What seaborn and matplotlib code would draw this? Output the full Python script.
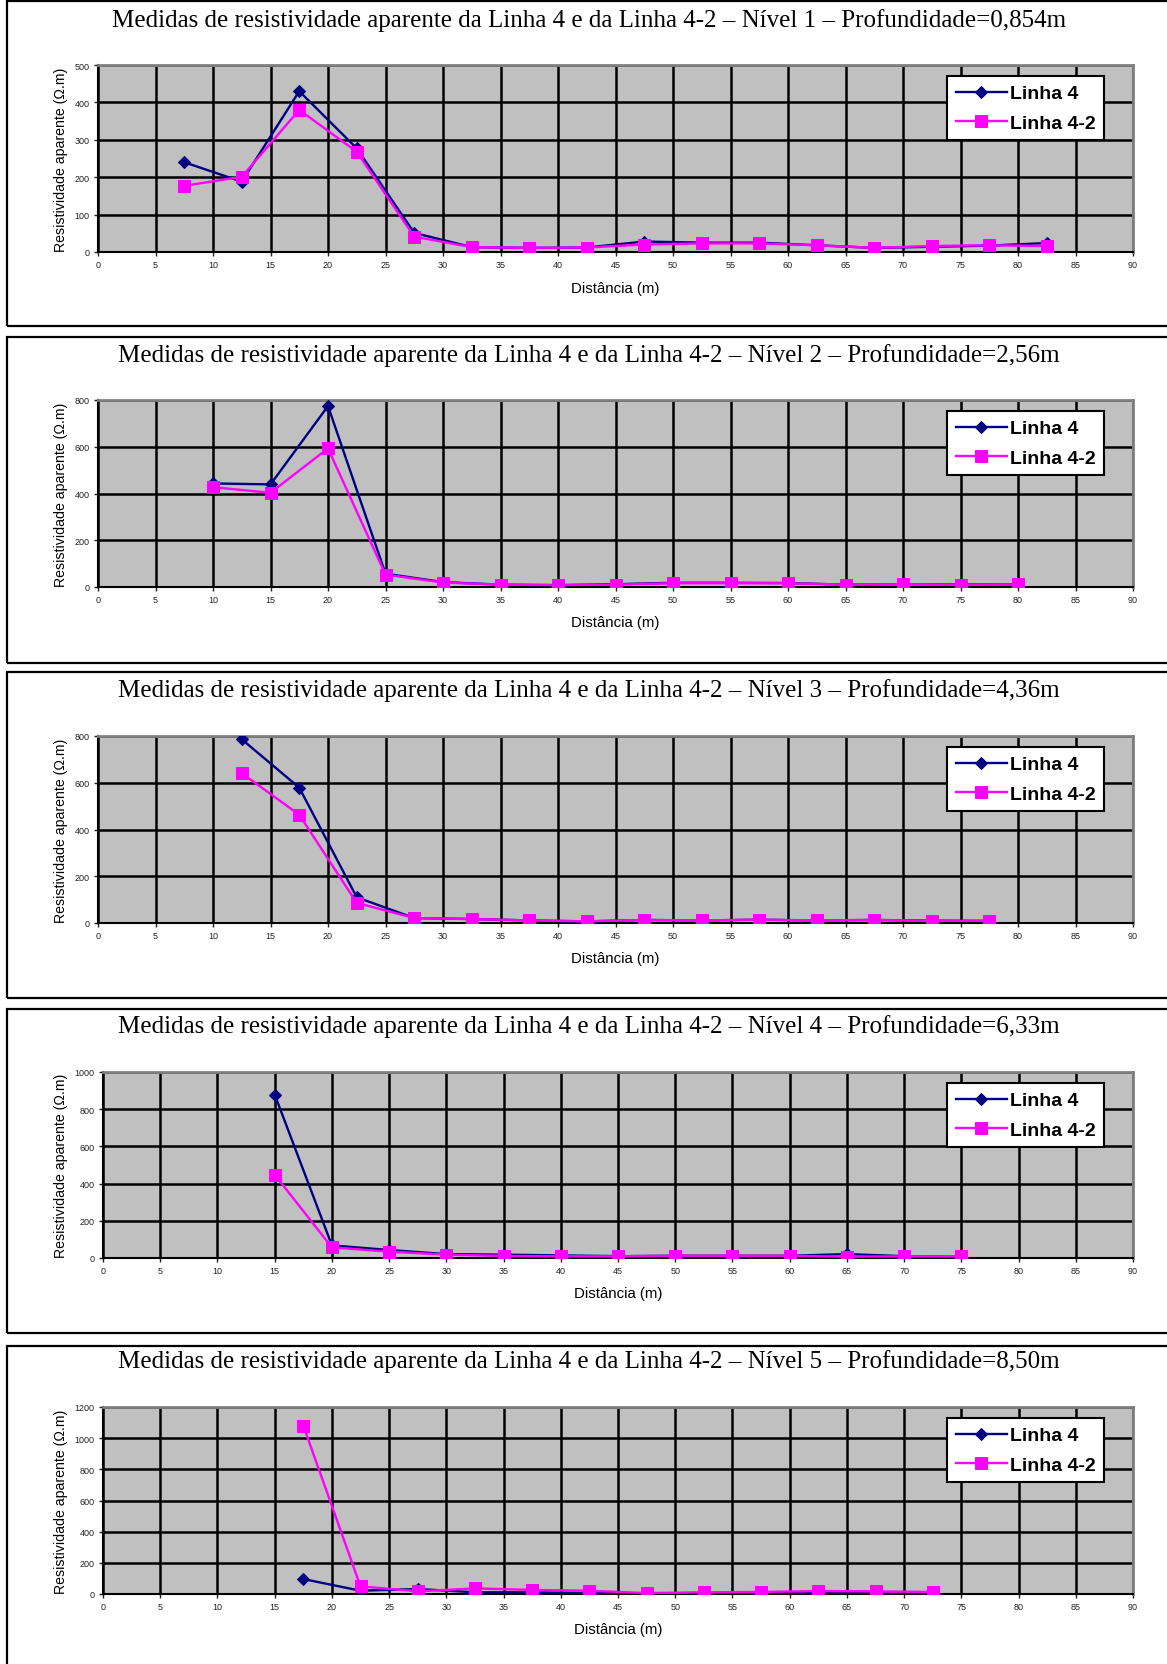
import matplotlib
matplotlib.use("Agg")
import matplotlib.pyplot as plt
from matplotlib.patches import Rectangle
import seaborn as sns

# --- data ---
titles = [
    "Medidas de resistividade aparente da Linha 4 e da Linha 4-2 \u2013 N\u00edvel 1 \u2013 Profundidade=0,854m",
    "Medidas de resistividade aparente da Linha 4 e da Linha 4-2 \u2013 N\u00edvel 2 \u2013 Profundidade=2,56m",
    "Medidas de resistividade aparente da Linha 4 e da Linha 4-2 \u2013 N\u00edvel 3 \u2013 Profundidade=4,36m",
    "Medidas de resistividade aparente da Linha 4 e da Linha 4-2 \u2013 N\u00edvel 4 \u2013 Profundidade=6,33m",
    "Medidas de resistividade aparente da Linha 4 e da Linha 4-2 \u2013 N\u00edvel 5 \u2013 Profundidade=8,50m",
]

x_n1 = [7.5, 12.5, 17.5, 22.5, 27.5, 32.5, 37.5, 42.5, 47.5, 52.5, 57.5, 62.5, 67.5, 72.5, 77.5, 82.5]
l4_n1 = [240, 188, 430, 277, 51, 13, 11, 12, 28, 25, 25, 18, 11, 14, 17, 24]
l42_n1 = [177, 201, 380, 268, 41, 13, 11, 12, 20, 23, 23, 18, 11, 16, 18, 16]

x_n2 = [10, 15, 20, 25, 30, 35, 40, 45, 50, 55, 60, 65, 70, 75, 80]
l4_n2 = [443, 439, 774, 57, 21, 10, 8, 12, 18, 18, 17, 10, 12, 11, 11]
l42_n2 = [427, 403, 593, 53, 19, 10, 8, 10, 16, 16, 16, 10, 12, 10, 11]

x_n3 = [12.5, 17.5, 22.5, 27.5, 32.5, 37.5, 42.5, 47.5, 52.5, 57.5, 62.5, 67.5, 72.5, 77.5]
l4_n3 = [786, 579, 110, 21, 17, 11, 7, 13, 11, 14, 11, 13, 10, 9]
l42_n3 = [641, 463, 86, 21, 17, 11, 7, 13, 11, 14, 11, 13, 9, 9]

x_n4 = [15, 20, 25, 30, 35, 40, 45, 50, 55, 60, 65, 70, 75]
l4_n4 = [879, 68, 43, 21, 18, 14, 10, 12, 12, 12, 21, 10, 8]
l42_n4 = [448, 57, 34, 18, 11, 9, 9, 12, 12, 12, 7, 9, 9]

x_n5 = [17.5, 22.5, 27.5, 32.5, 37.5, 42.5, 47.5, 52.5, 57.5, 62.5, 67.5, 72.5]
l4_n5 = [96, 21, 32, 11, 11, 6, 4, 2, 5, 8, 4, 2]
l42_n5 = [1081, 49, 17, 36, 26, 21, 6, 11, 13, 19, 17, 13]

xs = [x_n1, x_n2, x_n3, x_n4, x_n5]
linha4 = [l4_n1, l4_n2, l4_n3, l4_n4, l4_n5]
linha42 = [l42_n1, l42_n2, l42_n3, l42_n4, l42_n5]
ymax = [500, 800, 800, 1000, 1200]
ystep = [100, 200, 200, 200, 200]

# --- layout in pixels of the 1167x1665 page ---
W, H = 1167, 1665
boxes = [(2, 327), (338, 664), (673, 999), (1010, 1334), (1347, 1690)]
plots = [(98, 66, 1133, 253), (98, 401, 1133, 588), (98, 737, 1133, 924),
         (103, 1073, 1133, 1259), (103, 1408, 1133, 1595)]
title_y = [21, 356, 691, 1027, 1362]
xlabel_y = [289, 623, 959, 1294, 1630]

SANS = "Liberation Sans"
SERIF = "Liberation Serif"


def frac(l, t, r, b):
    return [l / W, 1 - b / H, (r - l) / W, (b - t) / H]


fig = plt.figure(figsize=(W / 100, H / 100), dpi=100)
fig.patch.set_facecolor("white")

for i in range(5):
    top, bot = boxes[i]
    fig.patches.append(Rectangle((6.5 / W, 1 - bot / H), 1.2, (bot - top) / H,
                                 transform=fig.transFigure, fill=False,
                                 edgecolor="black", linewidth=1.6))

    l, t, r, b = plots[i]
    ax = fig.add_axes(frac(l, t, r, b))
    ax.set_facecolor("#C0C0C0")

    sns.lineplot(x=xs[i], y=linha4[i], ax=ax, color="#000080", marker="D",
                 markersize=6, markeredgecolor="#000080", linewidth=1.7,
                 label="Linha 4", zorder=3)
    sns.lineplot(x=xs[i], y=linha42[i], ax=ax, color="#FF00FF", marker="s",
                 markersize=8, markeredgecolor="#FF00FF", linewidth=1.7,
                 label="Linha 4-2", zorder=4)

    ax.set_xlim(0, 90)
    ax.set_ylim(0, ymax[i])
    ax.set_xticks(range(0, 91, 5))
    ax.set_yticks(range(0, ymax[i] + 1, ystep[i]))
    ax.grid(True, color="black", linewidth=1.8)
    ax.set_axisbelow(True)
    ax.tick_params(direction="out", length=3, width=1, labelsize=6.5,
                   colors="#222222", pad=3)
    for lab in ax.get_xticklabels() + ax.get_yticklabels():
        lab.set_family(SANS)

    for side in ("left", "bottom"):
        ax.spines[side].set_color("black")
        ax.spines[side].set_linewidth(1.5)
    for side in ("top", "right"):
        ax.spines[side].set_color("#808080")
        ax.spines[side].set_linewidth(2)

    ax.set_xlabel("Dist\u00e2ncia (m)", family=SANS, fontsize=10.8)
    ax.xaxis.set_label_coords(0.5, -(xlabel_y[i] - b) / (b - t))
    ax.xaxis.label.set_va("center")
    ax.set_ylabel("Resistividade aparente (\u03a9.m)", family=SANS, fontsize=10.2)
    ax.yaxis.set_label_coords(-(l - 61) / (r - l), 0.5)
    ax.yaxis.label.set_va("center")

    fig.text(589 / W, 1 - title_y[i] / H, titles[i], family=SERIF,
             fontsize=18, ha="center", va="center")

    leg = ax.legend(loc="upper right",
                    bbox_to_anchor=(1 - 29 / (r - l), 1 - 11 / (b - t)),
                    borderaxespad=0, frameon=True, fancybox=False,
                    edgecolor="black", framealpha=1, facecolor="white",
                    prop=dict(family=SANS, weight="bold", size=14),
                    handlelength=2.6, handletextpad=0.15, borderpad=0.45,
                    labelspacing=0.6)
    leg.get_frame().set_linewidth(1.5)

fig.savefig("out.png", dpi=100)
